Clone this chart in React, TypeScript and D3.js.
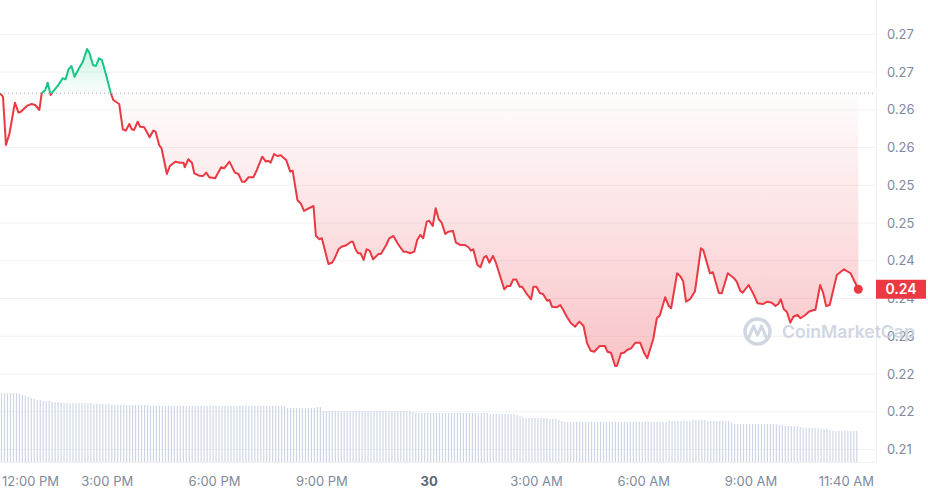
import React from 'react';
import * as d3 from 'd3';

// ---------- data ----------
const START = new Date(2024, 0, 29, 12, 0, 0);
const minuteOffsets = [0,5,10,16,25,31,35,45,53,59,66,70,76,80,85,89,98,105,110,115,120,125,131,139,146,150,156,161,166,171,178,186,190,200,206,211,217,221,225,231,235,242,251,257,261,267,271,280,285,294,302,308,310,316,322,326,334,341,346,351,361,371,376,385,394,400,406,411,417,425,431,440,446,450,454,460,465,471,480,487,491,499,505,510,517,526,530,536,540,551,557,562,568,573,581,589,592,597,601,605,610,615,620,626,635,639,648,653,660,667,670,677,681,688,695,700,705,710,716,720,726,731,736,741,747,752,760,765,772,780,786,790,794,801,806,812,816,821,827,832,839,846,851,856,861,866,872,876,883,891,895,900,906,911,918,922,926,934,940,945,951,958,965,972,979,985,991,997,1006,1015,1019,1025,1032,1035,1042,1047,1052,1059,1066,1074,1081,1086,1096,1102,1107,1116,1122,1126,1136,1141,1146,1151,1158,1166,1176,1180,1191,1196,1206,1211,1221,1231,1236,1242,1246,1256,1263,1271,1280,1287,1295,1301,1306,1310,1315,1320,1326,1331,1338,1343,1351,1357,1365,1368,1376,1381,1386,1392,1404,1416,1427,1440];

const prices = [0.26491,0.26441,0.25737,0.25908,0.26354,0.26208,0.26222,0.26306,0.26335,0.26320,0.26247,0.26491,0.26539,0.26645,0.26466,0.26514,0.26612,0.26709,0.26695,0.26840,0.26888,0.26732,0.26830,0.26951,0.27136,0.27082,0.26903,0.26888,0.27000,0.26976,0.26757,0.26491,0.26393,0.26335,0.25966,0.25946,0.26043,0.25966,0.25956,0.26077,0.26004,0.25995,0.25849,0.25946,0.25931,0.25737,0.25689,0.25315,0.25431,0.25494,0.25479,0.25479,0.25412,0.25529,0.25479,0.25325,0.25290,0.25286,0.25334,0.25267,0.25252,0.25412,0.25398,0.25494,0.25334,0.25315,0.25203,0.25203,0.25267,0.25267,0.25373,0.25567,0.25494,0.25508,0.25479,0.25606,0.25577,0.25587,0.25519,0.25348,0.25363,0.24936,0.24878,0.24776,0.24809,0.24848,0.24411,0.24363,0.24378,0.24003,0.24022,0.24095,0.24217,0.24255,0.24276,0.24328,0.24328,0.24207,0.24159,0.24159,0.24062,0.24217,0.24197,0.24072,0.24149,0.24149,0.24280,0.24378,0.24411,0.24305,0.24265,0.24183,0.24183,0.24159,0.24183,0.24353,0.24426,0.24378,0.24620,0.24634,0.24557,0.24815,0.24655,0.24605,0.24440,0.24474,0.24484,0.24314,0.24280,0.24280,0.24247,0.24197,0.24217,0.23989,0.23955,0.24101,0.24120,0.24022,0.24120,0.24022,0.23828,0.23635,0.23683,0.23683,0.23777,0.23777,0.23672,0.23672,0.23576,0.23489,0.23672,0.23672,0.23576,0.23566,0.23468,0.23479,0.23381,0.23372,0.23406,0.23333,0.23235,0.23139,0.23090,0.23163,0.23100,0.22848,0.22740,0.22725,0.22808,0.22808,0.22725,0.22711,0.22517,0.22517,0.22702,0.22711,0.22750,0.22775,0.22857,0.22857,0.22702,0.22629,0.22910,0.23212,0.23253,0.23518,0.23391,0.23358,0.23868,0.23828,0.23756,0.23454,0.23493,0.23606,0.24232,0.24203,0.23868,0.23882,0.23581,0.23576,0.23868,0.23799,0.23745,0.23610,0.23585,0.23697,0.23585,0.23431,0.23420,0.23454,0.23439,0.23391,0.23420,0.23489,0.23343,0.23308,0.23148,0.23235,0.23260,0.23212,0.23260,0.23308,0.23333,0.23333,0.23697,0.23585,0.23391,0.23406,0.23843,0.23926,0.23868,0.23635];

const openPrice = 0.26491;

// volume per 5-minute bucket (288 buckets)
const volumes = [
  69,69,69,69,69,69,68,67,66,65,64,63,62,62,61,61,61,60,60,60,59,59,59,59,
  59,59,59,59,59,59,59,58,58,58,58,58,58,57,57,57,57,57,57,57,57,57,57,57,
  57,57,56,56,56,56,56,56,56,56,56,56,56,56,56,56,56,56,56,56,56,56,56,56,
  56,56,56,56,56,56,56,56,56,56,56,56,56,56,56,56,56,56,56,56,56,56,56,56,
  54,54,54,54,54,54,54,54,54,54,55,55,51,51,51,51,51,51,51,51,51,51,51,51,
  51,51,51,51,51,51,51,51,51,51,51,51,51,51,51,51,51,51,50,49,49,49,49,49,
  49,49,49,49,49,49,49,49,49,49,49,49,49,49,49,49,49,49,49,49,48,48,48,48,
  48,48,48,48,48,47,46,45,44,44,44,44,44,44,44,44,43,43,43,42,41,40,40,40,
  40,40,40,40,40,40,40,40,40,40,40,40,40,40,40,40,40,40,40,40,40,40,40,40,
  40,40,40,40,40,40,40,40,41,41,41,41,41,41,41,41,42,42,42,42,42,41,41,41,
  41,41,41,41,41,39,38,38,38,38,38,38,38,38,38,38,38,38,38,38,38,37,37,36,
  36,36,36,36,35,34,34,34,34,34,34,33,33,33,32,31,31,31,31,31,31,31,31,31,
];

const yTickValues = [0.2735, 0.268, 0.2625, 0.257, 0.2515, 0.246, 0.2405, 0.235, 0.2295, 0.224, 0.2185, 0.213];
const yTickLabels = ['0.27','0.27','0.26','0.26','0.25','0.25','0.24','0.24','0.23','0.22','0.22','0.21'];

const xTickMinutes = [0, 180, 360, 540, 720, 900, 1080, 1260, 1420];
const xTickLabels = ['12:00 PM','3:00 PM','6:00 PM','9:00 PM','30','3:00 AM','6:00 AM','9:00 AM','11:40 AM'];

// ---------- styling ----------
const W = 928, H = 495;
const PLOT_RIGHT = 876;
const RED = '#ea3943';
const GREEN = '#16c784';
const FONT = 'Inter, "Noto Sans", sans-serif';

const addMin = (m: number) => new Date(START.getTime() + m * 60000);

export default function App() {
  const x = d3.scaleTime().domain([START, addMin(1440)]).range([0, 858.3]);
  const y = d3.scaleLinear().domain([0.213, 0.2735]).range([449.5, 34.3]);
  const vy = d3.scaleLinear().domain([0, 100]).range([462, 362]);

  const n = Math.min(minuteOffsets.length, prices.length);
  const data = d3.range(n).map(i => ({ t: addMin(minuteOffsets[i]), p: prices[i] }));
  const refY = y(openPrice);

  const line = d3.line<{ t: Date; p: number }>().x(d => x(d.t)).y(d => y(d.p));
  const area = d3.area<{ t: Date; p: number }>().x(d => x(d.t)).y0(refY).y1(d => y(d.p));
  const minP = d3.min(data, d => d.p) as number;
  const maxP = d3.max(data, d => d.p) as number;
  const last = data[data.length - 1];
  const lx = x(last.t), ly = y(last.p);

  return (
    <svg width={W} height={H} style={{ position: 'absolute', left: 0, top: 0, background: '#fff' }}>
      <defs>
        <clipPath id="above"><rect x={0} y={0} width={W} height={refY} /></clipPath>
        <clipPath id="below"><rect x={0} y={refY} width={W} height={H - refY} /></clipPath>
        <linearGradient id="redGrad" gradientUnits="userSpaceOnUse" x1={0} x2={0} y1={refY} y2={y(minP)}>
          <stop offset="0" stopColor={RED} stopOpacity={0.01} />
          <stop offset="1" stopColor={RED} stopOpacity={0.3} />
        </linearGradient>
        <linearGradient id="greenGrad" gradientUnits="userSpaceOnUse" x1={0} x2={0} y1={y(maxP)} y2={refY}>
          <stop offset="0" stopColor={GREEN} stopOpacity={0.22} />
          <stop offset="1" stopColor={GREEN} stopOpacity={0.02} />
        </linearGradient>
      </defs>

      {/* grid */}
      {yTickValues.map((v, i) => (
        <line key={'g' + i} x1={0} x2={PLOT_RIGHT} y1={y(v)} y2={y(v)} stroke="#f1f2f5" strokeWidth={1} />
      ))}
      <line x1={PLOT_RIGHT + 0.5} x2={PLOT_RIGHT + 0.5} y1={0} y2={462} stroke="#eff1f4" strokeWidth={1} />
      <line x1={0} x2={PLOT_RIGHT} y1={462.5} y2={462.5} stroke="#eff1f4" strokeWidth={1} />

      {/* volume */}
      {volumes.map((v, i) => {
        const bx = x(addMin(i * 5 + 2.5));
        return <rect key={'v' + i} x={bx - 0.6} y={vy(v)} width={1.2} height={vy(0) - vy(v)} fill="#cfd6e5" />;
      })}

      {/* areas */}
      <path d={area(data) || ''} fill="url(#redGrad)" clipPath="url(#below)" />
      <path d={area(data) || ''} fill="url(#greenGrad)" clipPath="url(#above)" />

      {/* reference line */}
      <line x1={0} x2={PLOT_RIGHT} y1={refY} y2={refY} stroke="#a1a9b8" strokeWidth={1} strokeDasharray="1 3" />

      {/* price line */}
      <path d={line(data) || ''} fill="none" stroke={RED} strokeWidth={2} strokeLinejoin="round" clipPath="url(#below)" />
      <path d={line(data) || ''} fill="none" stroke={GREEN} strokeWidth={2} strokeLinejoin="round" clipPath="url(#above)" />
      <circle cx={lx} cy={ly} r={4.5} fill={RED} />

      {/* y axis labels */}
      {yTickValues.map((v, i) => (
        <text key={'yl' + i} x={887} y={y(v)} dy="0.35em" fontFamily={FONT} fontSize={13} fill="#808a9d">{yTickLabels[i]}</text>
      ))}

      {/* watermark */}
      <g opacity={0.85}>
        <circle cx={757.5} cy={331.5} r={12.5} fill="none" stroke="#c9d1de" strokeWidth={3.5} />
        <path d="M749,337 L753.5,326 L757.5,335 L761.5,326 L766,337" fill="none" stroke="#c9d1de" strokeWidth={3} strokeLinejoin="round" strokeLinecap="round" />
        <text x={782} y={331.5} dy="0.35em" fontFamily={FONT} fontSize={17.6} fontWeight={600} fill="#c9d1de">CoinMarketCap</text>
      </g>

      {/* price tag */}
      <rect x={PLOT_RIGHT} y={ly - 9.5} width={50} height={19} fill={RED} />
      <text x={PLOT_RIGHT + 25} y={ly} dy="0.36em" textAnchor="middle" fontFamily={FONT} fontSize={14} fontWeight={600} fill="#fff">{d3.format('.2f')(last.p)}</text>

      {/* x axis labels */}
      {xTickMinutes.map((m, i) => {
        const px = x(addMin(m));
        const first = i === 0;
        const bold = xTickLabels[i] === '30';
        return (
          <text key={'xl' + i} x={first ? px + 2 : px} y={481} dy="0.35em" textAnchor={first ? 'start' : 'middle'}
            fontFamily={FONT} fontSize={13} fontWeight={bold ? 700 : 400} fill={bold ? '#58667e' : '#808a9d'}>
            {xTickLabels[i]}
          </text>
        );
      })}
    </svg>
  );
}
